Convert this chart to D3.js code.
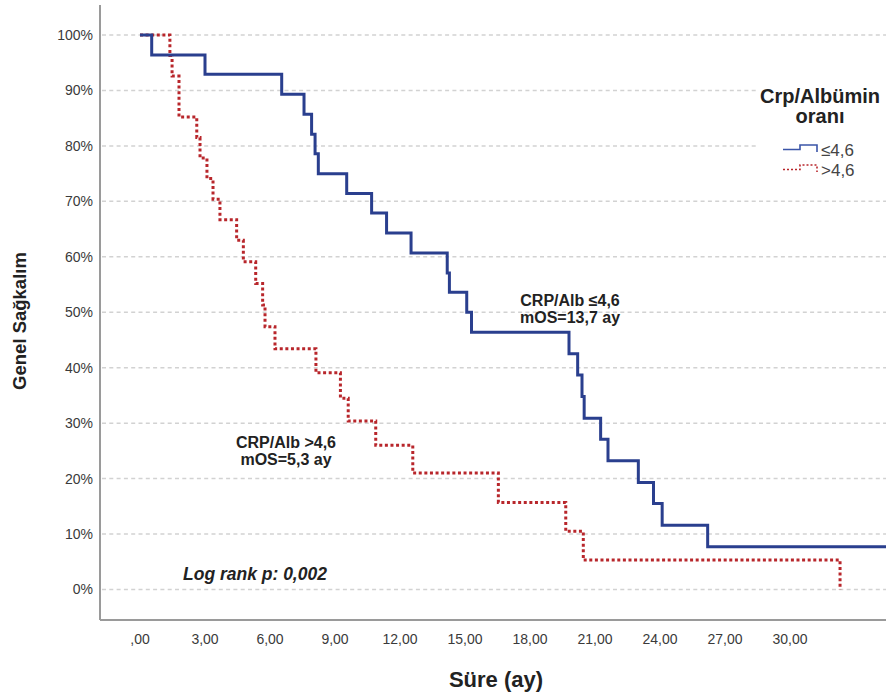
<!DOCTYPE html>
<html>
<head>
<meta charset="utf-8">
<script src="https://cdn.jsdelivr.net/npm/d3@7"></script>
<style>
  body { margin: 0; background: #fff; }
  text { font-family: "Liberation Sans", Arial, sans-serif; }
</style>
</head>
<body>
<script>
// survival data (months, % surviving)
var lowTimes = [0, 0.54, 3.0, 6.54, 7.57, 7.92, 8.08, 8.23, 9.54, 10.69, 11.38, 12.51, 14.18, 14.28, 15.08, 15.3,
                19.8, 20.2, 20.4, 20.5, 21.26, 21.6, 23.0, 23.7, 24.1, 26.2, 35];
var lowSurv  = [100, 96.4, 92.9, 89.3, 85.7, 82.1, 78.6, 75.0, 71.4, 67.9, 64.3, 60.7, 57.1, 53.6, 50.0, 46.4,
                42.5, 38.7, 34.8, 30.9, 27.1, 23.2, 19.3, 15.5, 11.6, 7.7, 7.7];
var highTimes = [0, 1.38, 1.48, 1.80, 2.62, 2.77, 3.09, 3.37, 3.69, 4.46, 4.77, 5.34, 5.66, 5.77, 6.23,
                 8.12, 9.25, 9.61, 10.88, 12.59, 16.54, 19.65, 20.46, 32.31];
var highSurv  = [100, 96.3, 92.6, 85.2, 81.5, 77.8, 74.1, 70.4, 66.7, 63.0, 59.1, 55.2, 51.3, 47.4, 43.4,
                 39.1, 34.5, 30.4, 26.0, 21.0, 15.7, 10.5, 5.3, 0];

var xTicks = [0, 3, 6, 9, 12, 15, 18, 21, 24, 27, 30];
var xTickLabels = [",00", "3,00", "6,00", "9,00", "12,00", "15,00", "18,00", "21,00", "24,00", "27,00", "30,00"];
var yTicks = [0, 10, 20, 30, 40, 50, 60, 70, 80, 90, 100];
var yTickLabels = ["0%", "10%", "20%", "30%", "40%", "50%", "60%", "70%", "80%", "90%", "100%"];
var legendLabels = ["\u22644,6", ">4,6"];

(function(){
var width = 886, height = 698;
var blue = "#2a3f8e", red = "#b8262b";

var svg = d3.select("body").append("svg")
    .attr("width", width)
    .attr("height", height);

svg.append("rect").attr("width", width).attr("height", height).attr("fill", "#fff");

var x = d3.scaleLinear().domain([0, 30]).range([140, 790]);
var y = d3.scaleLinear().domain([0, 100]).range([589.5, 35]);

//plot frame
var fLeft = 100, fRight = 886, fTop = 5, fBottom = 620;

svg.append("clipPath").attr("id", "plotclip")
  .append("rect").attr("x", fLeft).attr("y", fTop).attr("width", fRight - fLeft).attr("height", fBottom - fTop);

// gridlines
svg.selectAll(".grid")
    .data(yTicks)
    .enter()
    .append("line")
    .attr("class", "grid")
    .attr("x1", fLeft + 2).attr("x2", fRight)
    .attr("y1", function(d){ return y(d); })
    .attr("y2", function(d){ return y(d); })
    .attr("stroke", "#d2d2d2")
    .attr("stroke-width", 1.5)
    .attr("stroke-dasharray", "4,3.3");

// axes frame
svg.append("line").attr("x1", fLeft).attr("x2", fLeft).attr("y1", fTop).attr("y2", fBottom)
    .attr("stroke", "#9a9a9a").attr("stroke-width", 2);
svg.append("line").attr("x1", fLeft).attr("x2", fRight).attr("y1", fBottom).attr("y2", fBottom)
    .attr("stroke", "#9a9a9a").attr("stroke-width", 2);

// tick labels
svg.selectAll(".ylab")
    .data(yTicks)
    .enter()
    .append("text")
    .attr("class", "ylab")
    .attr("x", 93)
    .attr("y", function(d){ return y(d); })
    .attr("dy", "0.35em")
    .attr("text-anchor", "end")
    .attr("font-size", "14px")
    .attr("fill", "#3a3a3a")
    .text(function(d, i){ return yTickLabels[i]; });

svg.selectAll(".xlab")
    .data(xTicks)
    .enter()
    .append("text")
    .attr("class", "xlab")
    .attr("x", function(d){ return x(d); })
    .attr("y", 644)
    .attr("text-anchor", "middle")
    .attr("font-size", "14px")
    .attr("fill", "#3a3a3a")
    .text(function(d, i){ return xTickLabels[i]; });

// axis titles
svg.append("text")
    .attr("transform", "translate(26,321) rotate(-90)")
    .attr("text-anchor", "middle")
    .attr("font-size", "18.5px")
    .attr("font-weight", "bold")
    .attr("fill", "#222")
    .text("Genel Sağkalım");

svg.append("text")
    .attr("x", 496)
    .attr("y", 687)
    .attr("text-anchor", "middle")
    .attr("font-size", "22px")
    .attr("font-weight", "bold")
    .attr("fill", "#222")
    .text("Süre (ay)");

// curves
var step = d3.line()
    .x(function(d){ return x(d[0]); })
    .y(function(d){ return y(d[1]); })
    .curve(d3.curveStepAfter);

var plot = svg.append("g").attr("clip-path", "url(#plotclip)");

plot.append("path")
    .datum(d3.zip(highTimes, highSurv))
    .attr("d", step)
    .attr("fill", "none")
    .attr("stroke", red)
    .attr("stroke-width", 3)
    .attr("stroke-dasharray", "3,2.6");

plot.append("path")
    .datum(d3.zip(lowTimes, lowSurv))
    .attr("d", step)
    .attr("fill", "none")
    .attr("stroke", blue)
    .attr("stroke-width", 3);

// annotations
var ann = svg.append("g")
    .attr("font-size", "16px")
    .attr("font-weight", "bold")
    .attr("fill", "#222")
    .attr("text-anchor", "middle");
ann.append("text").attr("x", 570).attr("y", 306).text("CRP/Alb \u22644,6");
ann.append("text").attr("x", 570).attr("y", 323).text("mOS=13,7 ay");
ann.append("text").attr("x", 286).attr("y", 448).text("CRP/Alb >4,6");
ann.append("text").attr("x", 286).attr("y", 465).text("mOS=5,3 ay");

svg.append("text")
    .attr("x", 183)
    .attr("y", 580)
    .attr("font-size", "17.5px")
    .attr("font-weight", "bold")
    .attr("font-style", "italic")
    .attr("fill", "#222")
    .text("Log rank p: 0,002");

// legend
var legend = svg.append("g");
legend.append("rect").attr("x", 758).attr("y", 78).attr("width", 128).attr("height", 106).attr("fill", "#fff");
legend.append("text").attr("x", 820).attr("y", 103)
    .attr("text-anchor", "middle").attr("font-size", "20px").attr("font-weight", "bold").attr("fill", "#222")
    .text("Crp/Albümin");
legend.append("text").attr("x", 820).attr("y", 123)
    .attr("text-anchor", "middle").attr("font-size", "20px").attr("font-weight", "bold").attr("fill", "#222")
    .text("oranı");

var symbol = d3.line();
var items = legend.selectAll(".item")
    .data(legendLabels)
    .enter()
    .append("g")
    .attr("class", "item")
    .attr("transform", function(d, i){ return "translate(0," + (i * 20) + ")"; });

items.append("path")
    .attr("d", symbol([[783, 149.5], [800, 149.5], [800, 145], [817, 145], [817, 152]]))
    .attr("fill", "none")
    .attr("stroke", function(d, i){ return i === 0 ? "#3b55a8" : red; })
    .attr("stroke-width", 1.6)
    .attr("stroke-dasharray", function(d, i){ return i === 0 ? null : "2,2"; });

items.append("text")
    .attr("x", 821)
    .attr("y", 156)
    .attr("font-size", "17px")
    .attr("fill", "#444")
    .text(function(d){ return d; });
})();
</script>
</body>
</html>
